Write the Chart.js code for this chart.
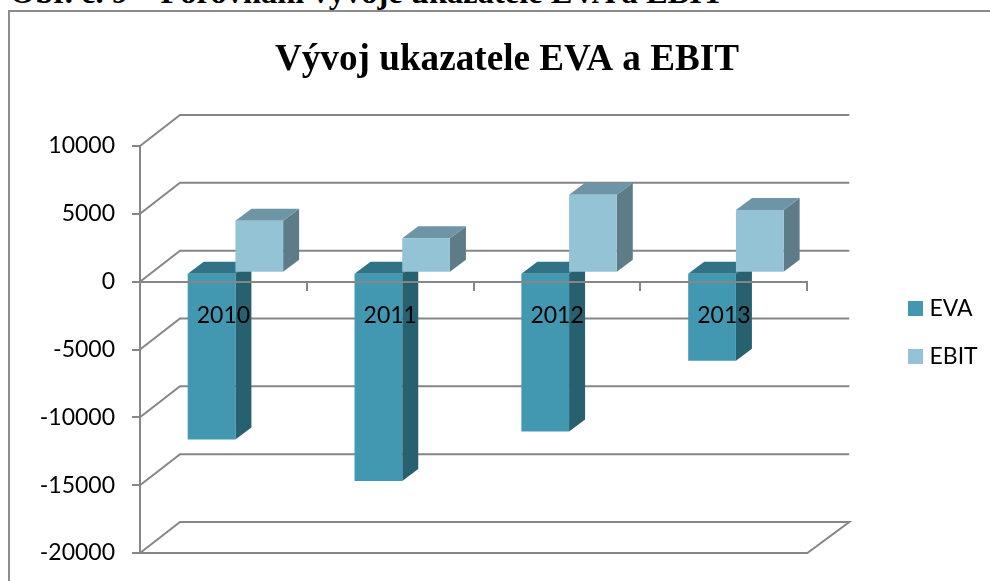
<!DOCTYPE html>
<html lang="cs">
<head>
<meta charset="utf-8">
<title>Vývoj ukazatele EVA a EBIT</title>
<script src="https://cdn.jsdelivr.net/npm/chart.js@4"></script>
<style>
html,body{margin:0;padding:0;background:#fff;width:990px;height:581px;overflow:hidden}
#wrap{position:relative;width:990px;height:581px;overflow:hidden}
#cap{position:absolute;left:10px;top:-26px;font:bold 32.5px "Liberation Serif",serif;color:#000;white-space:nowrap;line-height:36px}
canvas{position:absolute;left:0;top:0}
</style>
</head>
<body>
<div id="wrap">
<div id="cap">Obr. č. 9 – Porovnání vývoje ukazatele EVA a EBIT</div>
<canvas id="c" width="990" height="581"></canvas>
</div>
<script>
const categories = ['2010', '2011', '2012', '2013'];
const evaValues = [-12300, -15350, -11700, -6500];
const ebitValues = [3830, 2530, 5750, 4620];
const yTicks = [10000, 5000, 0, -5000, -10000, -15000, -20000];

const GRID = '#868686';
const PLOT = {top: 146, bottom: 553};
const WALL = {dx: 40, dy: -31, extra: 2};
const BAR_SHIFT = {dx: 12, dy: -9};
const BAR_DEPTH = {dx: 16, dy: -12};
const EVA_COL = {front: '#4297B1', side: '#27606F', top: '#307386'};
const EBIT_COL = {front: '#93C3D5', side: '#5E7C88', top: '#6E95A6'};
const faces = [EVA_COL, EBIT_COL];

function swatch(color) {
  const s = document.createElement('canvas');
  s.width = 15; s.height = 15;
  const g = s.getContext('2d');
  g.fillStyle = color; g.fillRect(0, 0, 15, 15);
  return s;
}
function poly(ctx, pts, fill) {
  ctx.beginPath();
  pts.forEach((p, i) => i ? ctx.lineTo(p[0], p[1]) : ctx.moveTo(p[0], p[1]));
  ctx.closePath();
  ctx.fillStyle = fill;
  ctx.fill();
}

const depthPlugin = {
  id: 'depth',
  afterLayout(chart) {
    const l = chart.legend;
    l.left = 888; l.right = l.left + l.width;
    l.top = 272; l.bottom = l.top + l.height;
    const t = chart.titleBlock;
    t.left += 43; t.right += 43;
    const a = chart.chartArea, y = chart.scales.y;
    a.top = PLOT.top; a.bottom = PLOT.bottom; a.height = PLOT.bottom - PLOT.top;
    y.top = PLOT.top; y.bottom = PLOT.bottom; y.height = a.height;
    y.configure();
  },
  beforeDraw(chart) {
    const ctx = chart.ctx;
    ctx.save();
    ctx.strokeStyle = '#8c8c8c';
    ctx.lineWidth = 2;
    ctx.beginPath();
    ctx.moveTo(9, 590); ctx.lineTo(9, 11); ctx.lineTo(995, 11);
    ctx.stroke();
    ctx.restore();
  },
  beforeDatasetsDraw(chart) {
    const ctx = chart.ctx, y = chart.scales.y, a = chart.chartArea;
    ctx.save();
    ctx.strokeStyle = GRID;
    ctx.lineWidth = 2;
    yTicks.forEach(v => {
      const py = y.getPixelForValue(v);
      ctx.beginPath();
      ctx.moveTo(a.left, py);
      ctx.lineTo(a.left + WALL.dx, py + WALL.dy);
      ctx.lineTo(a.right + WALL.dx + WALL.extra, py + WALL.dy);
      if (v === yTicks[yTicks.length - 1]) {
        ctx.lineTo(a.right, py);
        ctx.lineTo(a.left, py);
      }
      ctx.stroke();
    });
    ctx.translate(BAR_SHIFT.dx, BAR_SHIFT.dy);
    chart.data.datasets.forEach((d, i) => {
      chart.getDatasetMeta(i).data.forEach(b => {
        const h = b.width / 2, x0 = b.x - h, x1 = b.x + h;
        const up = Math.min(b.y, b.base), dn = Math.max(b.y, b.base);
        const dx = BAR_DEPTH.dx, dy = BAR_DEPTH.dy;
        poly(ctx, [[x1, up], [x1 + dx, up + dy], [x1 + dx, dn + dy], [x1, dn]], faces[i].side);
        poly(ctx, [[x0, up], [x0 + dx, up + dy], [x1 + dx, up + dy], [x1, up]], faces[i].top);
      });
    });
    ctx.restore();
  },
  beforeDatasetDraw(chart) {
    chart.ctx.save();
    chart.ctx.translate(BAR_SHIFT.dx, BAR_SHIFT.dy);
  },
  afterDatasetDraw(chart) {
    chart.ctx.restore();
  }
};

new Chart(document.getElementById('c'), {
  type: 'bar',
  data: {
    labels: categories,
    datasets: [
      {label: 'EVA', data: evaValues, backgroundColor: EVA_COL.front, clip: false},
      {label: 'EBIT', data: ebitValues, backgroundColor: EBIT_COL.front, clip: false}
    ]
  },
  plugins: [depthPlugin],
  options: {
    responsive: false,
    animation: false,
    events: [],
    categoryPercentage: 0.572,
    barPercentage: 1,
    layout: {padding: {left: 21, right: 83, top: 0, bottom: 28}},
    plugins: {
      tooltip: {enabled: false},
      title: {
        display: true,
        text: 'Vývoj ukazatele EVA a EBIT',
        color: '#000',
        font: {family: '"Liberation Serif"', weight: 'bold', size: 37.2},
        padding: {top: 38, bottom: 65}
      },
      legend: {
        position: 'right',
        align: 'start',
        labels: {
          color: '#000',
          font: {family: 'Lato', size: 23},
          padding: 25,
          boxWidth: 15,
          boxHeight: 15,
          usePointStyle: true,
          pointStyleWidth: 5,
          generateLabels() {
            return [
              {text: 'EVA', pointStyle: swatch(EVA_COL.front), fontColor: '#000', datasetIndex: 0, lineWidth: 0, hidden: false},
              {text: 'EBIT', pointStyle: swatch(EBIT_COL.front), fontColor: '#000', datasetIndex: 1, lineWidth: 0, hidden: false}
            ];
          }
        }
      }
    },
    scales: {
      x: {
        position: {y: 0},
        grid: {drawOnChartArea: false, color: GRID, lineWidth: 2, tickLength: 8, z: 1},
        border: {color: GRID, width: 2, z: 1},
        ticks: {color: '#000', font: {family: 'Lato', size: 23}, padding: 12, z: 1, maxRotation: 0}
      },
      y: {
        min: -20000,
        max: 10000,
        afterFit(s) { s.width = 119; },
        afterBuildTicks(s) { s.ticks = yTicks.map(v => ({value: v})); },
        grid: {drawOnChartArea: false, color: GRID, lineWidth: 2, tickLength: 8},
        border: {color: GRID, width: 2},
        ticks: {color: '#000', font: {family: 'Lato', size: 23}, padding: 17, callback: v => String(v)}
      }
    }
  }
});
</script>
</body>
</html>
